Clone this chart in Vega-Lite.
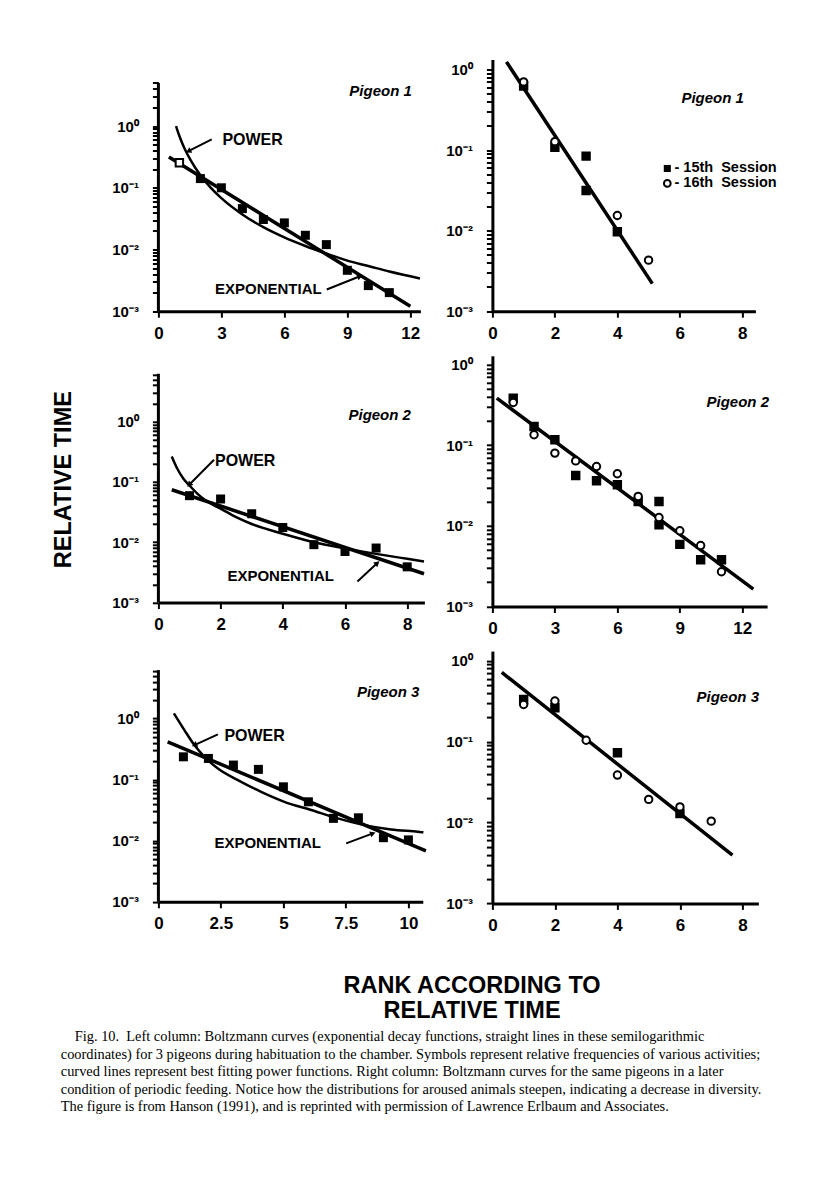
{
  "$schema": "https://vega.github.io/schema/vega-lite/v6.json",
  "background": "white",
  "padding": {"left": 50.4, "top": 54.5, "right": 10, "bottom": 10},
  "config": {
    "view": {"stroke": null},
    "font": "Liberation Sans",
    "axis": {"domainColor": "black", "domainWidth": 3, "tickColor": "black", "tickWidth": 2, "tickSize": 6, "grid": false, "labelColor": "black", "labelFont": "Liberation Sans", "labelFontWeight": "bold", "titleColor": "black", "titleFont": "Liberation Sans", "titleFontWeight": "bold", "labelOverlap": false, "labelFlush": false, "labelBound": false},
    "axisX": {"labelFontSize": 17, "labelPadding": 8},
    "axisY": {"labelFontSize": 15, "labelPadding": 14},
    "text": {"font": "Liberation Sans", "fontWeight": "bold", "color": "black"}
  },
  "datasets": {
    "L1_pts": [{"rank": 2, "time": 0.141}, {"rank": 3, "time": 0.1}, {"rank": 4, "time": 0.046}, {"rank": 5, "time": 0.0306}, {"rank": 6, "time": 0.027}, {"rank": 7, "time": 0.017}, {"rank": 8, "time": 0.012}, {"rank": 9, "time": 0.0046}, {"rank": 10, "time": 0.0026}, {"rank": 11, "time": 0.002}],
    "L1_open": [{"rank": 1, "time": 0.254}],
    "L1_exp": [{"rank": 0.5, "time": 0.316}, {"rank": 12, "time": 0.0012}],
    "L1_pow": [{"rank": 0.84, "time": 1.0}, {"rank": 1, "time": 0.69}, {"rank": 1.25, "time": 0.43}, {"rank": 1.5, "time": 0.295}, {"rank": 2, "time": 0.16}, {"rank": 2.5, "time": 0.1}, {"rank": 3, "time": 0.068}, {"rank": 4, "time": 0.037}, {"rank": 5, "time": 0.023}, {"rank": 6, "time": 0.0157}, {"rank": 7, "time": 0.0114}, {"rank": 8, "time": 0.0086}, {"rank": 9, "time": 0.0066}, {"rank": 10, "time": 0.0054}, {"rank": 11, "time": 0.0044}, {"rank": 12.46, "time": 0.0034}],
    "R1_pts": [{"rank": 1, "time": 0.62, "session": "15th Session"}, {"rank": 2, "time": 0.108, "session": "15th Session"}, {"rank": 3, "time": 0.084, "session": "15th Session"}, {"rank": 3, "time": 0.0315, "session": "15th Session"}, {"rank": 4, "time": 0.0097, "session": "15th Session"}, {"rank": 1, "time": 0.7, "session": "16th Session"}, {"rank": 2, "time": 0.127, "session": "16th Session"}, {"rank": 4, "time": 0.0154, "session": "16th Session"}, {"rank": 5, "time": 0.0043, "session": "16th Session"}],
    "R1_fit": [{"rank": 0.45, "time": 1.24}, {"rank": 5.12, "time": 0.0022}],
    "L2_pts": [{"rank": 1, "time": 0.059}, {"rank": 2, "time": 0.052}, {"rank": 3, "time": 0.0296}, {"rank": 4, "time": 0.0175}, {"rank": 5, "time": 0.0091}, {"rank": 6, "time": 0.007}, {"rank": 7, "time": 0.008}, {"rank": 8, "time": 0.0039}],
    "L2_exp": [{"rank": 0.43, "time": 0.074}, {"rank": 8.54, "time": 0.003}],
    "L2_pow": [{"rank": 0.43, "time": 0.263}, {"rank": 0.6, "time": 0.168}, {"rank": 0.8, "time": 0.114}, {"rank": 1, "time": 0.087}, {"rank": 1.25, "time": 0.064}, {"rank": 1.5, "time": 0.05}, {"rank": 2, "time": 0.036}, {"rank": 2.5, "time": 0.026}, {"rank": 3, "time": 0.02}, {"rank": 4, "time": 0.0138}, {"rank": 5, "time": 0.01}, {"rank": 6, "time": 0.0079}, {"rank": 7, "time": 0.0064}, {"rank": 8, "time": 0.0053}, {"rank": 8.54, "time": 0.0048}],
    "R2_pts": [{"rank": 1, "time": 0.385, "session": "15th Session"}, {"rank": 2, "time": 0.171, "session": "15th Session"}, {"rank": 3, "time": 0.117, "session": "15th Session"}, {"rank": 4, "time": 0.0422, "session": "15th Session"}, {"rank": 5, "time": 0.0363, "session": "15th Session"}, {"rank": 6, "time": 0.0324, "session": "15th Session"}, {"rank": 7, "time": 0.0201, "session": "15th Session"}, {"rank": 8, "time": 0.0201, "session": "15th Session"}, {"rank": 8, "time": 0.0103, "session": "15th Session"}, {"rank": 9, "time": 0.0059, "session": "15th Session"}, {"rank": 10, "time": 0.0038, "session": "15th Session"}, {"rank": 11, "time": 0.0038, "session": "15th Session"}, {"rank": 1, "time": 0.34, "session": "16th Session"}, {"rank": 2, "time": 0.135, "session": "16th Session"}, {"rank": 3, "time": 0.08, "session": "16th Session"}, {"rank": 4, "time": 0.064, "session": "16th Session"}, {"rank": 5, "time": 0.0546, "session": "16th Session"}, {"rank": 6, "time": 0.0443, "session": "16th Session"}, {"rank": 7, "time": 0.0232, "session": "16th Session"}, {"rank": 8, "time": 0.0127, "session": "16th Session"}, {"rank": 9, "time": 0.0087, "session": "16th Session"}, {"rank": 10, "time": 0.0057, "session": "16th Session"}, {"rank": 11, "time": 0.0027, "session": "16th Session"}],
    "R2_fit": [{"rank": 0.21, "time": 0.385}, {"rank": 12.53, "time": 0.00164}],
    "L3_pts": [{"rank": 1, "time": 0.236}, {"rank": 2, "time": 0.222}, {"rank": 3, "time": 0.173}, {"rank": 4, "time": 0.147}, {"rank": 5, "time": 0.0762}, {"rank": 6, "time": 0.0433}, {"rank": 7, "time": 0.0232}, {"rank": 8, "time": 0.0237}, {"rank": 9, "time": 0.0112}, {"rank": 10, "time": 0.0103}],
    "L3_exp": [{"rank": 0.37, "time": 0.416}, {"rank": 10.7, "time": 0.0068}],
    "L3_pow": [{"rank": 0.62, "time": 1.21}, {"rank": 1.04, "time": 0.646}, {"rank": 1.44, "time": 0.367}, {"rank": 1.84, "time": 0.236}, {"rank": 2.38, "time": 0.152}, {"rank": 3.18, "time": 0.098}, {"rank": 4.11, "time": 0.063}, {"rank": 5.04, "time": 0.0433}, {"rank": 6.11, "time": 0.0318}, {"rank": 7.18, "time": 0.0232}, {"rank": 8.24, "time": 0.018}, {"rank": 9.31, "time": 0.0153}, {"rank": 10.38, "time": 0.014}, {"rank": 10.6, "time": 0.0137}],
    "R3_pts": [{"rank": 1, "time": 0.332, "session": "15th Session"}, {"rank": 2, "time": 0.262, "session": "15th Session"}, {"rank": 4, "time": 0.0727, "session": "15th Session"}, {"rank": 6, "time": 0.0129, "session": "15th Session"}, {"rank": 1, "time": 0.288, "session": "16th Session"}, {"rank": 2, "time": 0.317, "session": "16th Session"}, {"rank": 3, "time": 0.104, "session": "16th Session"}, {"rank": 4, "time": 0.0386, "session": "16th Session"}, {"rank": 5, "time": 0.0193, "session": "16th Session"}, {"rank": 6, "time": 0.0156, "session": "16th Session"}, {"rank": 7, "time": 0.0104, "session": "16th Session"}],
    "R3_fit": [{"rank": 0.3, "time": 0.717}, {"rank": 7.68, "time": 0.00395}],
    "caption": [
      {"line": 1, "text": "Fig. 10.\u00a0 Left column: Boltzmann curves (exponential decay functions, straight lines in these semilogarithmic"},
      {"line": 2, "text": "coordinates) for 3 pigeons during habituation to the chamber. Symbols represent relative frequencies of various activities;"},
      {"line": 3, "text": "curved lines represent best fitting power functions. Right column: Boltzmann curves for the same pigeons in a later"},
      {"line": 4, "text": "condition of periodic feeding. Notice how the distributions for aroused animals steepen, indicating a decrease in diversity."},
      {"line": 5, "text": "The figure is from Hanson (1991), and is reprinted with permission of Lawrence Erlbaum and Associates."}
    ]
  },
  "columns": 2,
  "align": "each",
  "bounds": "flush",
  "spacing": {"row": 44.3, "column": 68},
  "concat": [
    {
      "width": 262, "height": 251.7,
      "layer": [
        {"data": {"name": "L1_exp"}, "mark": {"type": "line", "color": "black", "strokeWidth": 3.5},
         "encoding": {
           "x": {"field": "rank", "type": "quantitative", "scale": {"domain": [0, 12.48], "nice": false, "zero": false}, "axis": {"values": [0, 3, 6, 9, 12], "labelExpr": "'' + datum.value", "title": null}},
           "y": {"field": "time", "type": "quantitative", "scale": {"type": "log", "domain": [0.001, 12], "nice": false}, "axis": {"values": [0.001,0.002,0.003,0.004,0.005,0.006,0.007,0.008,0.009,0.01,0.02,0.03,0.04,0.05,0.06,0.07,0.08,0.09,0.1,0.2,0.3,0.4,0.5,0.6,0.7,0.8,0.9,1,2,3,4,5], "labelExpr": "datum.value == 1 ? '10⁰' : datum.value == 0.1 ? '10⁻¹' : datum.value == 0.01 ? '10⁻²' : datum.value == 0.001 ? '10⁻³' : ''", "domain": false, "title": null}}
         }},
        {"data": {"name": "L1_pow"}, "mark": {"type": "line", "color": "black", "strokeWidth": 2.5, "interpolate": "monotone"},
         "encoding": {"x": {"field": "rank", "type": "quantitative"}, "y": {"field": "time", "type": "quantitative"}}},
        {"data": {"name": "L1_pts"}, "mark": {"type": "point", "shape": "square", "filled": true, "color": "black", "size": 81, "opacity": 1},
         "encoding": {"x": {"field": "rank", "type": "quantitative"}, "y": {"field": "time", "type": "quantitative"}}},
        {"data": {"name": "L1_open"}, "mark": {"type": "point", "shape": "square", "filled": false, "fill": "white", "stroke": "black", "strokeWidth": 2, "size": 55, "opacity": 1},
         "encoding": {"x": {"field": "rank", "type": "quantitative"}, "y": {"field": "time", "type": "quantitative"}}},
        {"data": {"values": [{}]}, "mark": {"type": "rule", "color": "black", "strokeWidth": 3},
         "encoding": {"x": {"datum": 0}, "y": {"datum": 0.001}, "y2": {"datum": 5}}},
        {"data": {"values": [{}]}, "mark": {"type": "text", "text": "POWER", "align": "left", "baseline": "middle", "fontSize": 16},
         "encoding": {"x": {"datum": 3.05}, "y": {"datum": 0.6}}},
        {"data": {"values": [{}]}, "mark": {"type": "rule", "color": "black", "strokeWidth": 2},
         "encoding": {"x": {"datum": 2.54}, "y": {"datum": 0.607}, "x2": {"datum": 1.43}, "y2": {"datum": 0.392}}},
        {"data": {"values": [{}]}, "mark": {"type": "point", "shape": "triangle-up", "filled": true, "color": "black", "size": 40, "opacity": 1, "angle": 243},
         "encoding": {"x": {"datum": 1.43}, "y": {"datum": 0.392}}},
        {"data": {"values": [{}]}, "mark": {"type": "text", "text": "EXPONENTIAL", "align": "left", "baseline": "middle", "fontSize": 15},
         "encoding": {"x": {"datum": 2.7}, "y": {"datum": 0.00233}}},
        {"data": {"values": [{}]}, "mark": {"type": "rule", "color": "black", "strokeWidth": 2},
         "encoding": {"x": {"datum": 8.02}, "y": {"datum": 0.00225}, "x2": {"datum": 9.6}, "y2": {"datum": 0.00369}}},
        {"data": {"values": [{}]}, "mark": {"type": "point", "shape": "triangle-up", "filled": true, "color": "black", "size": 40, "opacity": 1, "angle": 68},
         "encoding": {"x": {"datum": 9.6}, "y": {"datum": 0.00369}}},
        {"data": {"values": [{}]}, "mark": {"type": "text", "text": "Pigeon 1", "align": "right", "baseline": "middle", "fontSize": 15, "fontStyle": "italic"},
         "encoding": {"x": {"datum": 12.07}, "y": {"datum": 3.68}}}
      ]
    },
    {
      "width": 263, "height": 251.7,
      "layer": [
        {"data": {"name": "R1_fit"}, "mark": {"type": "line", "color": "black", "strokeWidth": 3.5},
         "encoding": {
           "x": {"field": "rank", "type": "quantitative", "scale": {"domain": [0, 8.42], "nice": false, "zero": false}, "axis": {"values": [0, 2, 4, 6, 8], "labelExpr": "'' + datum.value", "title": null}},
           "y": {"field": "time", "type": "quantitative", "scale": {"type": "log", "domain": [0.001, 1.327], "nice": false}, "axis": {"values": [0.001,0.002,0.003,0.004,0.005,0.006,0.007,0.008,0.009,0.01,0.02,0.03,0.04,0.05,0.06,0.07,0.08,0.09,0.1,0.2,0.3,0.4,0.5,0.6,0.7,0.8,0.9,1], "labelExpr": "datum.value == 1 ? '10⁰' : datum.value == 0.1 ? '10⁻¹' : datum.value == 0.01 ? '10⁻²' : datum.value == 0.001 ? '10⁻³' : ''", "title": null}}
         }},
        {"data": {"name": "R1_pts"}, "mark": {"type": "point", "stroke": "black", "strokeWidth": 2, "size": 55, "opacity": 1},
         "encoding": {
           "x": {"field": "rank", "type": "quantitative"}, "y": {"field": "time", "type": "quantitative"},
           "shape": {"field": "session", "type": "nominal", "scale": {"domain": ["15th Session", "16th Session"], "range": ["square", "circle"]}, "legend": null},
           "fill": {"field": "session", "type": "nominal", "scale": {"domain": ["15th Session", "16th Session"], "range": ["black", "white"]}, "legend": null}
         }},
        {"data": {"values": [{}]}, "mark": {"type": "point", "shape": "square", "filled": true, "color": "black", "size": 50, "opacity": 1},
         "encoding": {"x": {"datum": 5.6}, "y": {"datum": 0.059}}},
        {"data": {"values": [{}]}, "mark": {"type": "point", "shape": "circle", "fill": "white", "stroke": "black", "strokeWidth": 2, "size": 45, "opacity": 1},
         "encoding": {"x": {"datum": 5.6}, "y": {"datum": 0.0385}}},
        {"data": {"values": [{}]}, "mark": {"type": "text", "text": "- 15th\u00a0 Session", "align": "left", "baseline": "middle", "fontSize": 14.5},
         "encoding": {"x": {"datum": 5.83}, "y": {"datum": 0.059}}},
        {"data": {"values": [{}]}, "mark": {"type": "text", "text": "- 16th\u00a0 Session", "align": "left", "baseline": "middle", "fontSize": 14.5},
         "encoding": {"x": {"datum": 5.83}, "y": {"datum": 0.0385}}},
        {"data": {"values": [{}]}, "mark": {"type": "text", "text": "Pigeon 1", "align": "right", "baseline": "middle", "fontSize": 15, "fontStyle": "italic"},
         "encoding": {"x": {"datum": 8.05}, "y": {"datum": 0.445}}}
      ]
    },
    {
      "width": 266, "height": 246.7,
      "layer": [
        {"data": {"name": "L2_exp"}, "mark": {"type": "line", "color": "black", "strokeWidth": 3.5},
         "encoding": {
           "x": {"field": "rank", "type": "quantitative", "scale": {"domain": [0, 8.553], "nice": false, "zero": false}, "axis": {"values": [0, 2, 4, 6, 8], "labelExpr": "'' + datum.value", "title": null}},
           "y": {"field": "time", "type": "quantitative", "scale": {"type": "log", "domain": [0.001, 12.3], "nice": false}, "axis": {"values": [0.001,0.002,0.003,0.004,0.005,0.006,0.007,0.008,0.009,0.01,0.02,0.03,0.04,0.05,0.06,0.07,0.08,0.09,0.1,0.2,0.3,0.4,0.5,0.6,0.7,0.8,0.9,1,2,3,4,5,6], "labelExpr": "datum.value == 1 ? '10⁰' : datum.value == 0.1 ? '10⁻¹' : datum.value == 0.01 ? '10⁻²' : datum.value == 0.001 ? '10⁻³' : ''", "domain": false, "title": "RELATIVE TIME", "titleFontSize": 23.5, "titlePadding": 36.7}}
         }},
        {"data": {"name": "L2_pow"}, "mark": {"type": "line", "color": "black", "strokeWidth": 2.5, "interpolate": "monotone"},
         "encoding": {"x": {"field": "rank", "type": "quantitative"}, "y": {"field": "time", "type": "quantitative"}}},
        {"data": {"name": "L2_pts"}, "mark": {"type": "point", "shape": "square", "filled": true, "color": "black", "size": 81, "opacity": 1},
         "encoding": {"x": {"field": "rank", "type": "quantitative"}, "y": {"field": "time", "type": "quantitative"}}},
        {"data": {"values": [{}]}, "mark": {"type": "rule", "color": "black", "strokeWidth": 3},
         "encoding": {"x": {"datum": 0}, "y": {"datum": 0.001}, "y2": {"datum": 6.2}}},
        {"data": {"values": [{}]}, "mark": {"type": "text", "text": "POWER", "align": "left", "baseline": "middle", "fontSize": 16},
         "encoding": {"x": {"datum": 1.82}, "y": {"datum": 0.218}}},
        {"data": {"values": [{}]}, "mark": {"type": "rule", "color": "black", "strokeWidth": 2},
         "encoding": {"x": {"datum": 1.79}, "y": {"datum": 0.232}, "x2": {"datum": 0.99}, "y2": {"datum": 0.0895}}},
        {"data": {"values": [{}]}, "mark": {"type": "point", "shape": "triangle-up", "filled": true, "color": "black", "size": 40, "opacity": 1, "angle": 225},
         "encoding": {"x": {"datum": 0.99}, "y": {"datum": 0.0895}}},
        {"data": {"values": [{}]}, "mark": {"type": "text", "text": "EXPONENTIAL", "align": "left", "baseline": "middle", "fontSize": 15},
         "encoding": {"x": {"datum": 2.22}, "y": {"datum": 0.0027}}},
        {"data": {"values": [{}]}, "mark": {"type": "rule", "color": "black", "strokeWidth": 2},
         "encoding": {"x": {"datum": 6.4}, "y": {"datum": 0.00223}, "x2": {"datum": 7.04}, "y2": {"datum": 0.0045}}},
        {"data": {"values": [{}]}, "mark": {"type": "point", "shape": "triangle-up", "filled": true, "color": "black", "size": 40, "opacity": 1, "angle": 50},
         "encoding": {"x": {"datum": 7.04}, "y": {"datum": 0.0045}}},
        {"data": {"values": [{}]}, "mark": {"type": "text", "text": "Pigeon 2", "align": "right", "baseline": "middle", "fontSize": 15, "fontStyle": "italic"},
         "encoding": {"x": {"datum": 8.12}, "y": {"datum": 1.29}}}
      ]
    },
    {
      "width": 274.7, "height": 250.7,
      "layer": [
        {"data": {"name": "R2_fit"}, "mark": {"type": "line", "color": "black", "strokeWidth": 3.5},
         "encoding": {
           "x": {"field": "rank", "type": "quantitative", "scale": {"domain": [0, 13.19], "nice": false, "zero": false}, "axis": {"values": [0, 3, 6, 9, 12], "labelExpr": "'' + datum.value", "title": null}},
           "y": {"field": "time", "type": "quantitative", "scale": {"type": "log", "domain": [0.001, 1.289], "nice": false}, "axis": {"values": [0.001,0.002,0.003,0.004,0.005,0.006,0.007,0.008,0.009,0.01,0.02,0.03,0.04,0.05,0.06,0.07,0.08,0.09,0.1,0.2,0.3,0.4,0.5,0.6,0.7,0.8,0.9,1], "labelExpr": "datum.value == 1 ? '10⁰' : datum.value == 0.1 ? '10⁻¹' : datum.value == 0.01 ? '10⁻²' : datum.value == 0.001 ? '10⁻³' : ''", "title": null}}
         }},
        {"data": {"name": "R2_pts"}, "mark": {"type": "point", "stroke": "black", "strokeWidth": 2, "size": 55, "opacity": 1},
         "encoding": {
           "x": {"field": "rank", "type": "quantitative"}, "y": {"field": "time", "type": "quantitative"},
           "shape": {"field": "session", "type": "nominal", "legend": null},
           "fill": {"field": "session", "type": "nominal", "legend": null}
         }},
        {"data": {"values": [{}]}, "mark": {"type": "text", "text": "Pigeon 2", "align": "right", "baseline": "middle", "fontSize": 15, "fontStyle": "italic"},
         "encoding": {"x": {"datum": 13.28}, "y": {"datum": 0.349}}}
      ]
    },
    {
      "width": 264.4, "height": 250.7,
      "layer": [
        {"data": {"name": "L3_exp"}, "mark": {"type": "line", "color": "black", "strokeWidth": 3.5},
         "encoding": {
           "x": {"field": "rank", "type": "quantitative", "scale": {"domain": [0, 10.576], "nice": false, "zero": false}, "axis": {"values": [0, 2.5, 5, 7.5, 10], "labelExpr": "'' + datum.value", "title": null}},
           "y": {"field": "time", "type": "quantitative", "scale": {"type": "log", "domain": [0.001, 12.68], "nice": false}, "axis": {"values": [0.001,0.002,0.003,0.004,0.005,0.006,0.007,0.008,0.009,0.01,0.02,0.03,0.04,0.05,0.06,0.07,0.08,0.09,0.1,0.2,0.3,0.4,0.5,0.6,0.7,0.8,0.9,1,2,3,4,5,6], "labelExpr": "datum.value == 1 ? '10⁰' : datum.value == 0.1 ? '10⁻¹' : datum.value == 0.01 ? '10⁻²' : datum.value == 0.001 ? '10⁻³' : ''", "domain": false, "title": null}}
         }},
        {"data": {"name": "L3_pow"}, "mark": {"type": "line", "color": "black", "strokeWidth": 2.5, "interpolate": "monotone"},
         "encoding": {"x": {"field": "rank", "type": "quantitative"}, "y": {"field": "time", "type": "quantitative"}}},
        {"data": {"name": "L3_pts"}, "mark": {"type": "point", "shape": "square", "filled": true, "color": "black", "size": 81, "opacity": 1},
         "encoding": {"x": {"field": "rank", "type": "quantitative"}, "y": {"field": "time", "type": "quantitative"}}},
        {"data": {"values": [{}]}, "mark": {"type": "rule", "color": "black", "strokeWidth": 3},
         "encoding": {"x": {"datum": 0}, "y": {"datum": 0.001}, "y2": {"datum": 6.2}}},
        {"data": {"values": [{}]}, "mark": {"type": "text", "text": "POWER", "align": "left", "baseline": "middle", "fontSize": 16},
         "encoding": {"x": {"datum": 2.64}, "y": {"datum": 0.515}}},
        {"data": {"values": [{}]}, "mark": {"type": "rule", "color": "black", "strokeWidth": 2},
         "encoding": {"x": {"datum": 2.38}, "y": {"datum": 0.55}, "x2": {"datum": 1.44}, "y2": {"datum": 0.367}}},
        {"data": {"values": [{}]}, "mark": {"type": "point", "shape": "triangle-up", "filled": true, "color": "black", "size": 40, "opacity": 1, "angle": 245},
         "encoding": {"x": {"datum": 1.44}, "y": {"datum": 0.367}}},
        {"data": {"values": [{}]}, "mark": {"type": "text", "text": "EXPONENTIAL", "align": "left", "baseline": "middle", "fontSize": 15},
         "encoding": {"x": {"datum": 2.24}, "y": {"datum": 0.0092}}},
        {"data": {"values": [{}]}, "mark": {"type": "rule", "color": "black", "strokeWidth": 2},
         "encoding": {"x": {"datum": 7.51}, "y": {"datum": 0.00903}, "x2": {"datum": 8.58}, "y2": {"datum": 0.01316}}},
        {"data": {"values": [{}]}, "mark": {"type": "point", "shape": "triangle-up", "filled": true, "color": "black", "size": 40, "opacity": 1, "angle": 70},
         "encoding": {"x": {"datum": 8.58}, "y": {"datum": 0.01316}}},
        {"data": {"values": [{}]}, "mark": {"type": "text", "text": "Pigeon 3", "align": "right", "baseline": "middle", "fontSize": 15, "fontStyle": "italic"},
         "encoding": {"x": {"datum": 10.44}, "y": {"datum": 2.73}}}
      ]
    },
    {
      "width": 266, "height": 252.3,
      "layer": [
        {"data": {"name": "R3_fit"}, "mark": {"type": "line", "color": "black", "strokeWidth": 3.5},
         "encoding": {
           "x": {"field": "rank", "type": "quantitative", "scale": {"domain": [0, 8.51], "nice": false, "zero": false}, "axis": {"values": [0, 2, 4, 6, 8], "labelExpr": "'' + datum.value", "title": null}},
           "y": {"field": "time", "type": "quantitative", "scale": {"type": "log", "domain": [0.001, 1.315], "nice": false}, "axis": {"values": [0.001,0.002,0.003,0.004,0.005,0.006,0.007,0.008,0.009,0.01,0.02,0.03,0.04,0.05,0.06,0.07,0.08,0.09,0.1,0.2,0.3,0.4,0.5,0.6,0.7,0.8,0.9,1], "labelExpr": "datum.value == 1 ? '10⁰' : datum.value == 0.1 ? '10⁻¹' : datum.value == 0.01 ? '10⁻²' : datum.value == 0.001 ? '10⁻³' : ''", "title": null}}
         }},
        {"data": {"name": "R3_pts"}, "mark": {"type": "point", "stroke": "black", "strokeWidth": 2, "size": 55, "opacity": 1},
         "encoding": {
           "x": {"field": "rank", "type": "quantitative"}, "y": {"field": "time", "type": "quantitative"},
           "shape": {"field": "session", "type": "nominal", "legend": null},
           "fill": {"field": "session", "type": "nominal", "legend": null}
         }},
        {"data": {"values": [{}]}, "mark": {"type": "text", "text": "Pigeon 3", "align": "right", "baseline": "middle", "fontSize": 15, "fontStyle": "italic"},
         "encoding": {"x": {"datum": 8.53}, "y": {"datum": 0.352}}}
      ]
    },
    {
      "width": 262, "height": 170,
      "title": {"text": ["RANK ACCORDING TO", "RELATIVE TIME"], "font": "Liberation Sans", "fontSize": 23.5, "fontWeight": "bold", "color": "black", "lineHeight": 25, "anchor": "middle", "dx": 182.7, "offset": -74.6, "baseline": "top"},
      "data": {"name": "caption"},
      "encoding": {
        "x": {"datum": 0, "type": "quantitative", "scale": {"domain": [0.3725, 1.3725]}, "axis": null},
        "y": {"field": "line", "type": "quantitative", "scale": {"domain": [-4.08, 5.634], "reverse": true, "nice": false, "zero": false}, "axis": null},
        "text": {"field": "text"}
      },
      "layer": [
        {"transform": [{"filter": "datum.line > 1"}], "mark": {"type": "text", "align": "left", "baseline": "middle", "font": "Liberation Serif", "fontSize": 14.4, "fontWeight": "normal", "color": "black"}},
        {"transform": [{"filter": "datum.line == 1"}], "mark": {"type": "text", "align": "left", "baseline": "middle", "font": "Liberation Serif", "fontSize": 14.4, "fontWeight": "normal", "color": "black", "dx": 14}}
      ]
    }
  ]
}
